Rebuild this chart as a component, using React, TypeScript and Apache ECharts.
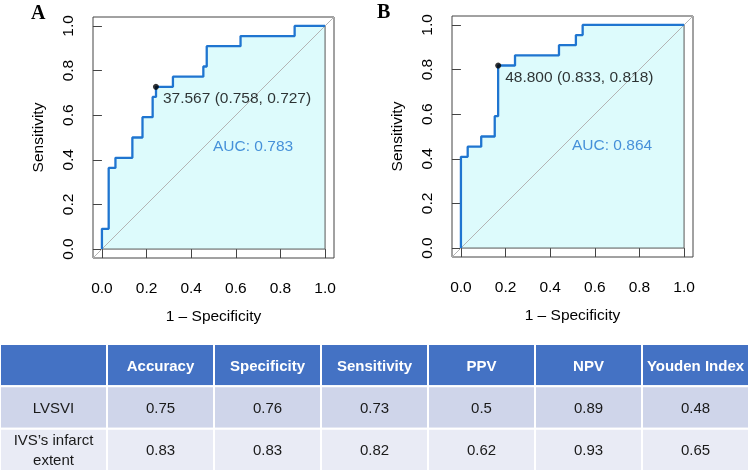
import React, { useEffect, useRef } from "react";
import * as echarts from "echarts";

// ROC curve A (LVSVI): vertices of the step curve (1 - specificity, sensitivity)
const rocAFpr = [0, 0, 0.0303, 0.0303, 0.0606, 0.0606, 0.1364, 0.1364, 0.1818, 0.1818, 0.2273, 0.2273, 0.2424, 0.2424, 0.3182, 0.3182, 0.4545, 0.4545, 0.4697, 0.4697, 0.6212, 0.6212, 0.8636, 0.8636, 1];
const rocASens = [0, 0.0909, 0.0909, 0.3636, 0.3636, 0.4091, 0.4091, 0.5, 0.5, 0.5909, 0.5909, 0.6818, 0.6818, 0.7273, 0.7273, 0.7727, 0.7727, 0.8182, 0.8182, 0.9091, 0.9091, 0.9545, 0.9545, 1, 1];
// ROC curve B (IVS's infarct extent)
const rocBFpr = [0, 0, 0.0303, 0.0303, 0.0909, 0.0909, 0.1515, 0.1515, 0.1667, 0.1667, 0.2424, 0.2424, 0.4394, 0.4394, 0.5152, 0.5152, 0.5455, 0.5455, 1];
const rocBSens = [0, 0.4091, 0.4091, 0.4545, 0.4545, 0.5, 0.5, 0.5909, 0.5909, 0.8182, 0.8182, 0.8636, 0.8636, 0.9091, 0.9091, 0.9545, 0.9545, 1, 1];

const cutoffA = 37.567, specA = 0.758, sensA = 0.727, aucA = 0.783;
const cutoffB = 48.8, specB = 0.833, sensB = 0.818, aucB = 0.864;

const axisTicks = [0, 0.2, 0.4, 0.6, 0.8, 1.0];
const panelLetters = ["A", "B"];

const metricNames = ["Accuracy", "Specificity", "Sensitivity", "PPV", "NPV", "Youden Index"];
const rowNames = ["LVSVI", "IVS\u2019s infarct\nextent"];
const lvsviValues = ["0.75", "0.76", "0.73", "0.5", "0.89", "0.48"];
const ivsValues = ["0.83", "0.83", "0.82", "0.62", "0.93", "0.65"];

const BLUE = "#1f75d0";
const FILL = "#ddfbfc";
const FONT = "Liberation Sans, Arial, Helvetica, sans-serif";

function zip(xs: number[], ys: number[]) {
  return xs.map((x, i) => [x, ys[i]]);
}

function rocAxes(gridIndex: number) {
  const common = {
    gridIndex,
    type: "value" as const,
    min: -0.04,
    max: 1.04,
    nameLocation: "middle" as const,
    nameTextStyle: { fontFamily: FONT, fontSize: 15.5, color: "#000" },
    axisLine: { show: false },
    splitLine: { show: false },
    axisTick: { show: true, inside: false, length: 9, customValues: axisTicks, lineStyle: { color: "#444", width: 1 } },
  };
  return {
    x: {
      ...common,
      name: "1 \u2013 Specificity",
      nameGap: 49,
      axisLabel: {
        customValues: axisTicks,
        formatter: (v: number) => v.toFixed(1),
        fontFamily: FONT,
        fontSize: 15.5,
        color: "#000",
        margin: 21,
      },
    },
    y: {
      ...common,
      name: "Sensitivity",
      nameGap: 48,
      axisLabel: {
        customValues: axisTicks,
        formatter: (v: number) => v.toFixed(1),
        fontFamily: FONT,
        fontSize: 15.5,
        color: "#000",
        rotate: 90,
        margin: 18,
      },
    },
  };
}

function rocSeries(idx: number, fpr: number[], sens: number[], cutoff: number, spec: number, se: number, auc: number) {
  const data = zip(fpr, sens);
  return [
    {
      type: "line", xAxisIndex: idx, yAxisIndex: idx, data, symbol: "none", silent: true,
      lineStyle: { width: 0, opacity: 0 }, areaStyle: { color: FILL, opacity: 1 }, z: 1,
    },
    {
      type: "line", xAxisIndex: idx, yAxisIndex: idx, data: [[0, 0], [1, 0], [1, 1]], symbol: "none", silent: true,
      lineStyle: { color: "#555", width: 1 }, z: 2,
    },
    {
      type: "line", xAxisIndex: idx, yAxisIndex: idx, data: [[-0.04, -0.04], [1.04, 1.04]], symbol: "none", silent: true,
      lineStyle: { color: "#b4b4b4", width: 1 }, z: 3,
    },
    {
      type: "line", xAxisIndex: idx, yAxisIndex: idx, data, symbol: "none", silent: true,
      lineStyle: { color: BLUE, width: 2.3 }, z: 4,
    },
    {
      type: "scatter", xAxisIndex: idx, yAxisIndex: idx, data: [[1 - spec, se]], symbolSize: 6, silent: true,
      itemStyle: { color: "#000" }, z: 5,
      label: {
        show: true, position: "right", distance: 4, offset: [0, 10.5],
        formatter: () => `${cutoff.toFixed(3)} (${spec.toFixed(3)}, ${se.toFixed(3)})`,
        fontFamily: FONT, fontSize: 15.5, color: "#000",
      },
    },
    {
      type: "scatter", xAxisIndex: idx, yAxisIndex: idx, data: [[0.5, 0.5]], symbolSize: 1, silent: true,
      itemStyle: { color: "rgba(0,0,0,0)" }, z: 5,
      label: {
        show: true, position: [0, 0], align: "left", verticalAlign: "top",
        formatter: () => `AUC: ${auc.toFixed(3)}`,
        fontFamily: FONT, fontSize: 15.5, color: BLUE,
      },
    },
  ];
}

export default function App() {
  const ref = useRef<HTMLDivElement>(null);
  useEffect(() => {
    if (!ref.current) return;
    const chart = echarts.init(ref.current, null, { renderer: "svg" });
    const a = rocAxes(0);
    const b = rocAxes(1);

    const tableCols = ["", ...metricNames];
    const tableRows = ["header", "LVSVI", "IVS"];
    const cells: { col: number; row: number; text: string }[] = [];
    tableCols.forEach((name, c) => cells.push({ col: c, row: 0, text: name }));
    [lvsviValues, ivsValues].forEach((vals, r) => {
      cells.push({ col: 0, row: r + 1, text: rowNames[r] });
      vals.forEach((v, c) => cells.push({ col: c + 1, row: r + 1, text: v }));
    });
    const rowFills = ["#4472c4", "#cfd5ea", "#e9ebf5"];

    chart.setOption({
      animation: false,
      grid: [
        { left: 93, top: 17, width: 241, height: 241, show: true, borderColor: "#444", borderWidth: 1, backgroundColor: "transparent" },
        { left: 452, top: 16, width: 241, height: 241, show: true, borderColor: "#444", borderWidth: 1, backgroundColor: "transparent" },
        { left: 0, top: 344, width: 749, height: 127 },
      ],
      xAxis: [
        a.x,
        b.x,
        { gridIndex: 2, type: "category", data: tableCols, show: false },
      ],
      yAxis: [
        a.y,
        b.y,
        { gridIndex: 2, type: "category", data: tableRows, inverse: true, show: false },
      ],
      graphic: [
        { type: "text", left: 31, top: 2, style: { text: panelLetters[0], font: "bold 20px 'Liberation Serif', 'Times New Roman', serif", fill: "#000" } },
        { type: "text", left: 377, top: 1, style: { text: panelLetters[1], font: "bold 20px 'Liberation Serif', 'Times New Roman', serif", fill: "#000" } },
      ],
      series: [
        ...rocSeries(0, rocAFpr, rocASens, cutoffA, specA, sensA, aucA),
        ...rocSeries(1, rocBFpr, rocBSens, cutoffB, specB, sensB, aucB),
        {
          type: "custom",
          xAxisIndex: 2,
          yAxisIndex: 2,
          silent: true,
          clip: false,
          data: cells.map((c) => [c.col, c.row]),
          renderItem: (params: any, api: any) => {
            const cell = cells[params.dataIndex];
            const center = api.coord([api.value(0), api.value(1)]);
            const size = api.size([1, 1]);
            const w = size[0];
            const h = size[1];
            const header = cell.row === 0;
            return {
              type: "group",
              children: [
                {
                  type: "rect",
                  shape: { x: center[0] - w / 2, y: center[1] - h / 2, width: w, height: h },
                  style: { fill: rowFills[cell.row], stroke: "#ffffff", lineWidth: 2 },
                },
                {
                  type: "text",
                  x: center[0],
                  y: center[1],
                  style: {
                    text: cell.text,
                    align: "center",
                    verticalAlign: "middle",
                    fill: header ? "#ffffff" : "#1a1a1a",
                    font: `${header ? "bold " : ""}15px ${FONT}`,
                    lineHeight: 20,
                  },
                },
              ],
            };
          },
        },
      ],
    });
    return () => chart.dispose();
  }, []);
  return <div ref={ref} style={{ position: "fixed", left: 0, top: 0, width: 749, height: 472 }} />;
}
